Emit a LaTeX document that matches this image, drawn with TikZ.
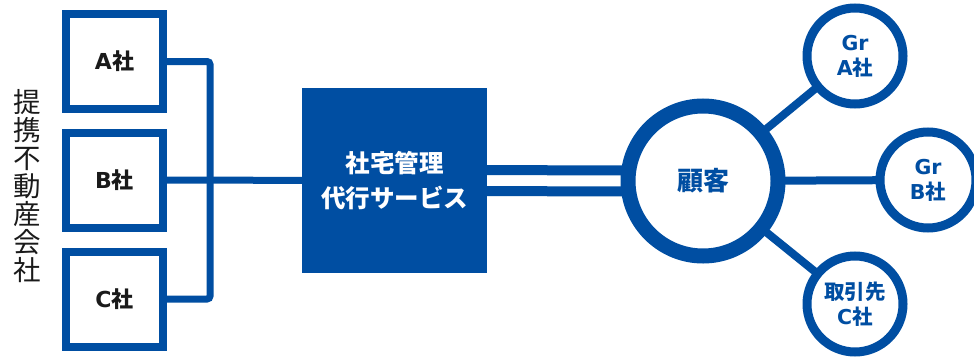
\documentclass[tikz,border=0pt]{standalone}
\usepackage{fontspec}
\setmainfont{Noto Sans CJK JP}
\newfontfamily\lat{DejaVu Sans}
\usetikzlibrary{backgrounds}
\definecolor{mblue}{HTML}{004EA2}
\definecolor{mtext}{HTML}{1A1A1A}
\tikzset{
  cobox/.style={draw=mblue, line width=8pt, fill=white, minimum width=97pt, minimum height=95pt, inner sep=0pt, text=mtext, font=\fontsize{22}{24}\selectfont\bfseries},
  svcbox/.style={fill=mblue, minimum width=185pt, minimum height=185pt, inner sep=0pt, text=white, align=center, font=\fontsize{24.5}{35}\selectfont\bfseries},
  bigcirc/.style={circle, draw=mblue, line width=15pt, fill=white, minimum size=150pt, inner sep=0pt, text=mblue, font=\fontsize{26}{28}\selectfont\bfseries},
  smallcirc/.style={circle, draw=mblue, line width=9pt, fill=white, minimum size=96pt, inner sep=0pt, text=mblue, align=center, font=\fontsize{20.5}{25}\selectfont\bfseries},
  link/.style={draw=mblue, line width=7pt},
  spoke/.style={draw=mblue, line width=8pt},
  dbl/.style={draw=mblue, line width=10pt},
}
\begin{document}
\begin{tikzpicture}[x=1pt,y=-1pt]
\useasboundingbox (0,0) rectangle (974,356);
\clip (0,0) rectangle (974,356);
\node[cobox] (boxA) at (114.5,61.5) {{\lat A}社};
\node[cobox] (boxB) at (114.5,180) {{\lat B}社};
\node[cobox] (boxC) at (114.5,299) {{\lat C}社};
\node[text=mtext, align=center, font=\fontsize{27.5}{28}\selectfont] (side) at (27,186) {提\\携\\不\\動\\産\\会\\社};
\node[svcbox] (svc) at (394.5,180.5) {社宅管理\\代行サービス};
\node[bigcirc] (big) at (703,181) {顧客};
\node[smallcirc] (cA) at (855,56) {{\lat Gr}\\{\lat A}社};
\node[smallcirc] (cB) at (928,180) {{\lat Gr}\\{\lat B}社};
\node[smallcirc] (cC) at (855,304) {取引先\\{\lat C}社};
\coordinate (brk) at (210,180);
\begin{scope}[on background layer]
  \draw[link, rounded corners=3pt] (boxA.center) -| (brk) |- (boxC.center);
  \draw[link] (boxB.center) -- (svc.center);
  \draw[dbl] ([yshift=-10.5pt]svc.center) -- ([yshift=-10.5pt]big.center);
  \draw[dbl] ([yshift=10.5pt]svc.center) -- ([yshift=10.5pt]big.center);
  \draw[spoke] (big.center) -- (cA.center);
  \draw[spoke] (big.center) -- (cB.center);
  \draw[spoke] (big.center) -- (cC.center);
\end{scope}
\end{tikzpicture}
\end{document}
